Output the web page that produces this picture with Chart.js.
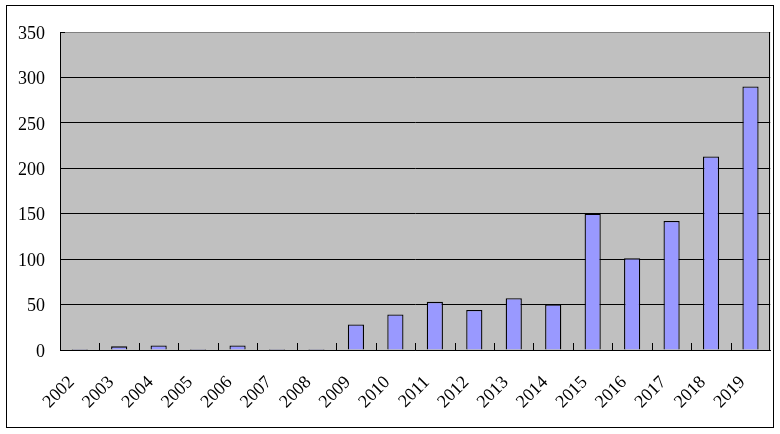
<!DOCTYPE html>
<html>
<head>
<meta charset="utf-8">
<script src="https://cdn.jsdelivr.net/npm/chart.js"></script>
<style>
  html, body { margin: 0; padding: 0; background: #fff; }
  #wrap { width: 780px; height: 434px; position: relative; }
</style>
</head>
<body>
<div id="wrap"><canvas id="papers"></canvas></div>
<script>
// years and counts
var years = ["2002", "2003", "2004", "2005", "2006", "2007", "2008", "2009", "2010",
             "2011", "2012", "2013", "2014", "2015", "2016", "2017", "2018", "2019"];
var counts = [1, 4, 5, 1, 5, 1, 1, 28, 39, 53, 44, 57, 50, 150, 101, 142, 213, 290];
var yTicks = [0, 50, 100, 150, 200, 250, 300, 350];

// gray plot area, outer frame, little inside ticks on the category axis
var excelLook = {
    id: "excelLook",
    beforeDraw: function(chart) {
        var c = chart.ctx, a = chart.chartArea;
        c.save();
        c.fillStyle = "#ffffff";
        c.fillRect(0, 0, chart.width, chart.height);
        c.fillStyle = "#c0c0c0";
        c.fillRect(a.left, a.top, a.right - a.left, a.bottom - a.top);
        c.restore();
    },
    afterDraw: function(chart) {
        var c = chart.ctx, a = chart.chartArea, x = chart.scales.x;
        c.save();
        c.strokeStyle = "#000";
        c.lineWidth = 1;
        // right edge of plot
        c.beginPath();
        c.moveTo(Math.round(a.right) - 0.5, a.top);
        c.lineTo(Math.round(a.right) - 0.5, a.bottom);
        c.stroke();
        // tick marks between categories, pointing up
        c.beginPath();
        for (var i = 1; i < years.length; i++) {
            var px = Math.round(x.getPixelForValue(i - 0.5)) + 0.5;
            c.moveTo(px, a.bottom);
            c.lineTo(px, a.bottom - 7);
        }
        // short tick at the top of value axis
        c.moveTo(a.left, Math.round(a.top) + 0.5);
        c.lineTo(a.left + 5, Math.round(a.top) + 0.5);
        c.stroke();
        // outer frame
        c.strokeRect(6.5, 5.5, 767, 422);
        c.restore();
    }
};

new Chart(document.getElementById("papers"), {
    type: "bar",
    data: {
        labels: years,
        datasets: [{
            data: counts,
            backgroundColor: "#9999ff",
            borderColor: "#000000",
            borderWidth: 1.3,
            borderSkipped: "bottom",
            barPercentage: 0.41,
            categoryPercentage: 1.0
        }]
    },
    options: {
        responsive: true,
        maintainAspectRatio: false,
        animation: false,
        layout: { padding: { top: 32, right: 8, left: 0, bottom: 0 } },
        plugins: {
            legend: { display: false },
            tooltip: { enabled: false }
        },
        scales: {
            x: {
                offset: true,
                grid: { display: false },
                border: { display: true, color: "#000", width: 1 },
                ticks: {
                    autoSkip: false,
                    minRotation: 45,
                    maxRotation: 45,
                    padding: 14,
                    labelOffset: -8,
                    color: "#000",
                    font: { family: "Liberation Serif", size: 18 }
                },
                afterFit: function(s) { s.height = 84; }
            },
            y: {
                min: 0,
                max: 350,
                afterBuildTicks: function(s) {
                    s.ticks = yTicks.map(function(v) { return { value: v }; });
                },
                grid: {
                    color: function(ctx) { return ctx.tick && ctx.tick.value === 350 ? "#808080" : "#000"; },
                    lineWidth: 1,
                    drawTicks: false
                },
                border: { display: true, color: "#000", width: 1 },
                ticks: {
                    padding: 15,
                    labelOffset: 2,
                    color: "#000",
                    font: { family: "Liberation Serif", size: 18 }
                },
                afterFit: function(s) { s.width = 60; }
            }
        }
    },
    plugins: [excelLook]
});
</script>
</body>
</html>
